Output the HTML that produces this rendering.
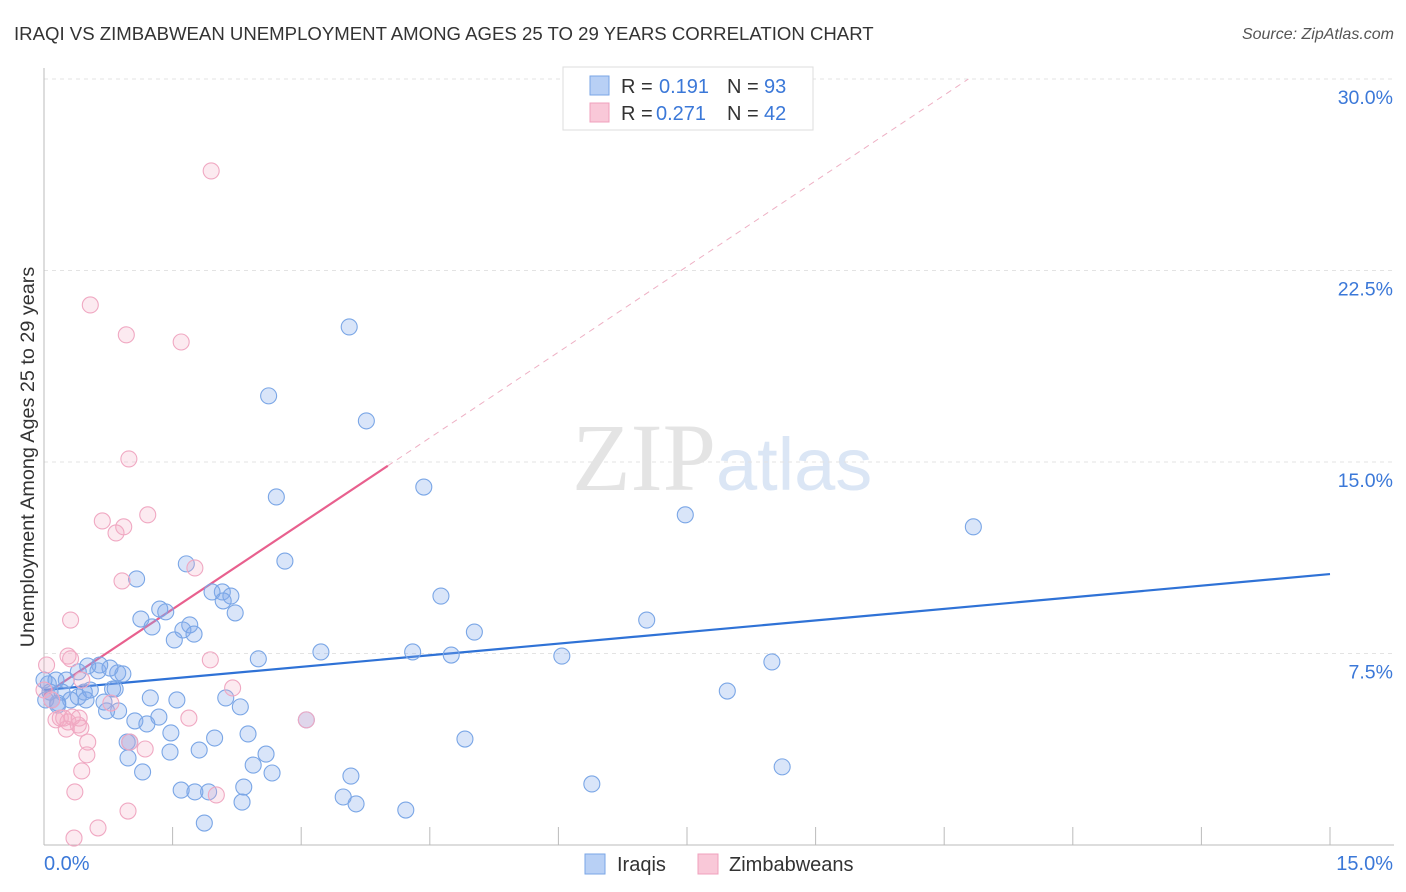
<!DOCTYPE html>
<html><head><meta charset="utf-8">
<style>
body{margin:0;background:#fff;font-family:"Liberation Sans",sans-serif;}
svg{display:block}
</style></head>
<body>
<svg id="chart" width="1406" height="892">
<text x="14" y="40" font-size="18.6" fill="#333">IRAQI VS ZIMBABWEAN UNEMPLOYMENT AMONG AGES 25 TO 29 YEARS CORRELATION CHART</text>
<text x="1394" y="39" font-size="16" fill="#555" font-style="italic" text-anchor="end">Source: ZipAtlas.com</text>
<text x="716" y="490" font-size="96" fill="#e4e4e4" text-anchor="end" font-family="Liberation Serif">ZIP</text>
<text x="716" y="490" font-size="74" fill="#dbe6f5">atlas</text>
<g id="grid"></g><g id="axes"></g><g id="trend"></g><g id="pts"></g>
<text transform="translate(34,457) rotate(-90)" font-size="19.8" fill="#333" text-anchor="middle">Unemployment Among Ages 25 to 29 years</text>
<g>
<rect x="563" y="67" width="250" height="63" fill="#fff" stroke="#ddd"/>
<rect x="590" y="76" width="19" height="19" fill="#b8d0f5" stroke="#7aa6e6"/>
<text x="621" y="93" font-size="20" fill="#333">R = </text><text x="659" y="93" font-size="20" fill="#3b78d8">0.191</text>
<text x="727" y="93" font-size="20" fill="#333">N = </text><text x="764" y="93" font-size="20" fill="#3b78d8">93</text>
<rect x="590" y="103" width="19" height="19" fill="#f9c8d8" stroke="#f0a0bd"/>
<text x="621" y="120" font-size="20" fill="#333">R = </text><text x="656" y="120" font-size="20" fill="#3b78d8">0.271</text>
<text x="727" y="120" font-size="20" fill="#333">N = </text><text x="764" y="120" font-size="20" fill="#3b78d8">42</text>
</g>
<g>
<rect x="585" y="854" width="20" height="20" fill="#b8d0f5" stroke="#7aa6e6"/>
<text x="617" y="871" font-size="20" fill="#333">Iraqis</text>
<rect x="698" y="854" width="20" height="20" fill="#f9c8d8" stroke="#f0a0bd"/>
<text x="729" y="871" font-size="20" fill="#333">Zimbabweans</text>
</g>
</svg>
<script>
const xTicks=[0,1.5,3,4.5,6,7.5,9,10.5,12,13.5,15];
const yTicks=[7.5,15,22.5,30];
const yTickLabels=["7.5%","15.0%","22.5%","30.0%"];
const iraqiX=[3.56,2.62,3.76,2.71,4.43,7.48,10.84,2.81,1.08,1.66,4.63,5.02,7.03,2.08,2.18,1.96,2.09,2.23,1.35,1.42,1.13,1.26,1.70,1.62,1.75,1.52,2.50,3.23,4.30,4.75,6.04,8.49,7.97,8.61,6.39,4.91,4.22,3.64,3.49,3.58,3.06,2.38,1.99,1.81,1.47,1.48,1.34,1.06,1.20,0.97,1.00,0.98,1.15,2.59,2.44,2.66,2.33,2.31,1.60,1.76,1.92,1.87,2.29,2.12,1.55,1.24,0.87,0.73,0.70,0.83,0.63,0.86,0.92,0.77,0.65,0.51,0.40,0.26,0.14,0.05,0.07,0.21,0.40,0.47,0.54,0.31,0.16,0.02,0.00,0.16,0.49,0.80,0.09];
const iraqiY=[20.29,17.59,16.61,13.63,14.02,12.93,12.46,11.12,10.42,11.01,9.75,8.34,8.81,9.91,9.75,9.91,9.56,9.09,9.24,9.13,8.85,8.54,8.62,8.42,8.26,8.03,7.29,7.56,7.56,7.44,7.40,7.17,6.03,3.06,2.39,4.15,1.37,1.61,1.88,2.70,4.90,4.35,4.19,3.72,3.64,4.39,5.01,4.86,4.74,4.03,4.03,3.41,2.86,3.56,3.13,2.82,2.27,1.68,2.15,2.08,2.08,0.86,5.41,5.76,5.68,5.76,5.25,5.25,5.60,6.11,6.82,6.74,6.70,6.93,7.05,7.01,6.78,6.46,6.46,6.31,5.99,5.99,5.80,5.99,6.07,5.68,5.56,5.68,6.46,5.48,5.68,6.11,5.68];
const zimX=[1.95,0.54,0.96,1.60,0.99,0.68,0.84,0.93,1.21,1.76,0.91,0.31,0.28,0.31,1.94,2.20,0.44,0.78,3.06,1.69,0.41,0.14,0.19,0.28,0.40,0.26,0.43,0.51,1.18,1.00,0.50,0.44,0.36,0.98,0.63,0.35,2.01,0.03,0.09,0.00,0.23,0.33];
const zimY=[26.40,21.15,19.98,19.70,15.12,12.69,12.22,12.46,12.93,10.85,10.34,8.81,7.40,7.29,7.25,6.15,6.46,5.56,4.90,4.97,4.97,4.90,4.97,4.82,4.70,4.54,4.58,4.03,3.76,4.03,3.53,2.90,2.08,1.33,0.67,0.27,1.96,7.05,5.68,6.07,4.97,5.01];
const iraqiTrend=[6.07,10.61]; // y at x=0 and x=15
const zimTrend=[5.88,2.237];   // intercept, slope
const zimSolidEnd=4.01;

const NS="http://www.w3.org/2000/svg";
const X0=44,X1=1330,Y0=845,Y30=79;
const sx=v=>X0+(v/15)*(X1-X0);
const sy=v=>Y0-(v/30)*(Y0-Y30);
function mk(tag,attrs,parent){const e=document.createElementNS(NS,tag);for(const k in attrs)e.setAttribute(k,attrs[k]);parent.appendChild(e);return e;}
const grid=document.getElementById('grid'),axes=document.getElementById('axes'),trend=document.getElementById('trend'),pts=document.getElementById('pts');
yTicks.forEach((t,i)=>{
 const l=mk('line',{x1:X0,x2:1394,y1:sy(t),y2:sy(t),stroke:'#e3e3e3','stroke-dasharray':'4,4'},grid);
 
 
 const tx=mk('text',{x:1393,y:sy(t)+25,'font-size':19.5,fill:'#3b78d8','text-anchor':'end'},axes);
 tx.textContent=yTickLabels[i];
 
 
});
const ya=mk('line',{x1:X0,x2:X0,y1:68,y2:Y0,stroke:'#bbb'},axes);


const xa=mk('line',{x1:X0,x2:1394,y1:Y0,y2:Y0,stroke:'#bbb'},axes);


xTicks.forEach(t=>{
 const l=mk('line',{x1:sx(t),x2:sx(t),y1:Y0,y2:Y0-18,stroke:'#bbb'},axes);
 
 
});
const xl0=mk('text',{x:44,y:870,'font-size':20,fill:'#3b78d8'},axes);xl0.textContent='0.0%';


const xl1=mk('text',{x:1393,y:870,'font-size':20,fill:'#3b78d8','text-anchor':'end'},axes);xl1.textContent='15.0%';



iraqiX.forEach((v,i)=>{
 const c=mk('circle',{cx:sx(v),cy:sy(iraqiY[i]),r:8,fill:'rgba(130,170,235,0.3)',stroke:'#7aa6e6','stroke-width':1.1},pts);
 
 
});
zimX.forEach((v,i)=>{
 const c=mk('circle',{cx:sx(v),cy:sy(zimY[i]),r:8,fill:'rgba(245,170,195,0.25)',stroke:'#f0a8c2','stroke-width':1.1},pts);
 
 
});
const bt=mk('line',{x1:sx(0),y1:sy(iraqiTrend[0]),x2:sx(15),y2:sy(iraqiTrend[1]),stroke:'#2f72d6','stroke-width':2.2},trend);


const zEnd=(30-zimTrend[0])/zimTrend[1];
const pd=mk('line',{x1:sx(zimSolidEnd),y1:sy(zimTrend[0]+zimTrend[1]*zimSolidEnd),x2:sx(zEnd),y2:sy(30),stroke:'#eeb0c4','stroke-width':1,'stroke-dasharray':'6,5'},trend);


const pt=mk('line',{x1:sx(0),y1:sy(zimTrend[0]),x2:sx(zimSolidEnd),y2:sy(zimTrend[0]+zimTrend[1]*zimSolidEnd),stroke:'#e8608e','stroke-width':2.2},trend);


</script>
</body></html>
